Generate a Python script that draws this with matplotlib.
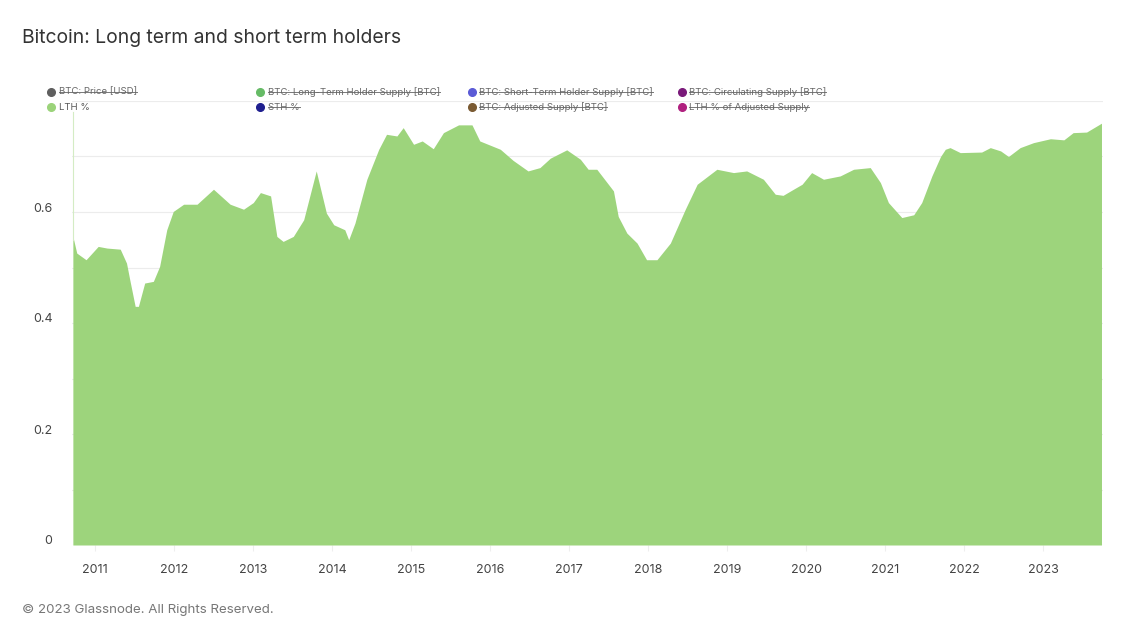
import matplotlib
matplotlib.use("Agg")
import matplotlib.pyplot as plt
from matplotlib.lines import Line2D
from matplotlib.transforms import ScaledTranslation
import numpy as np
import pandas as pd

plt.rcParams['font.family'] = ['Inter', 'DejaVu Sans']

title = "Bitcoin: Long term and short term holders"
footer = "\u00a9 2023 Glassnode. All Rights Reserved."

dates = ["2010-09-20", "2010-10-08", "2010-11-20", "2011-01-15", "2011-02-25", "2011-04-27",
         "2011-05-26", "2011-06-10", "2011-07-05", "2011-07-20", "2011-08-18", "2011-09-27",
         "2011-10-26", "2011-11-28", "2011-12-28", "2012-02-14", "2012-04-16", "2012-07-01",
         "2012-09-16", "2012-11-17", "2013-01-01", "2013-02-03", "2013-03-22", "2013-04-20",
         "2013-05-19", "2013-07-05", "2013-08-22", "2013-10-19", "2013-12-05", "2014-01-08",
         "2014-02-28", "2014-03-18", "2014-04-16", "2014-06-10", "2014-08-04", "2014-09-09",
         "2014-10-27", "2014-11-25", "2015-01-12", "2015-02-21", "2015-04-13", "2015-05-30",
         "2015-08-08", "2015-10-09", "2015-11-14", "2016-02-17", "2016-04-16", "2016-06-24",
         "2016-08-18", "2016-10-05", "2016-12-20", "2017-02-21", "2017-03-29", "2017-05-08",
         "2017-07-24", "2017-08-15", "2017-09-24", "2017-11-10", "2017-12-24", "2018-02-10",
         "2018-04-13", "2018-06-21", "2018-08-15", "2018-11-14", "2019-01-30", "2019-04-01",
         "2019-06-17", "2019-08-11", "2019-09-16", "2019-11-03", "2019-12-13", "2020-01-26",
         "2020-03-21", "2020-06-06", "2020-08-07", "2020-10-23", "2020-12-09", "2021-01-15",
         "2021-03-18", "2021-05-12", "2021-06-18", "2021-08-04", "2021-09-13", "2021-10-05",
         "2021-10-27", "2021-12-13", "2022-03-22", "2022-05-01", "2022-06-18", "2022-07-24",
         "2022-09-16", "2022-11-17", "2023-02-03", "2023-04-06", "2023-05-19", "2023-07-20",
         "2023-09-27"]
lth_pct = [0.556, 0.526, 0.514, 0.538, 0.535, 0.533,
           0.508, 0.478, 0.430, 0.430, 0.472, 0.475,
           0.502, 0.568, 0.601, 0.614, 0.614, 0.641,
           0.614, 0.605, 0.617, 0.635, 0.629, 0.556,
           0.547, 0.556, 0.586, 0.674, 0.598, 0.577,
           0.568, 0.550, 0.580, 0.659, 0.713, 0.740,
           0.737, 0.752, 0.722, 0.728, 0.714, 0.743,
           0.757, 0.757, 0.728, 0.713, 0.693, 0.674,
           0.680, 0.697, 0.712, 0.695, 0.677, 0.677,
           0.638, 0.592, 0.562, 0.544, 0.514, 0.514,
           0.544, 0.605, 0.650, 0.677, 0.671, 0.674,
           0.659, 0.632, 0.630, 0.641, 0.650, 0.671,
           0.659, 0.665, 0.677, 0.680, 0.653, 0.617,
           0.590, 0.595, 0.617, 0.665, 0.700, 0.713,
           0.716, 0.707, 0.708, 0.716, 0.710, 0.700,
           0.716, 0.725, 0.732, 0.730, 0.743, 0.744,
           0.760]

legend_labels = ["BTC: Price [USD]", "BTC: Long-Term Holder Supply [BTC]",
                 "BTC: Short-Term Holder Supply [BTC]", "BTC: Circulating Supply [BTC]",
                 "LTH %", "STH %", "BTC: Adjusted Supply [BTC]", "LTH % of Adjusted Supply"]
legend_colors = ["#5f5f5f", "#66bb66", "#5b5bd6", "#7a1a7a",
                 "#9bd37a", "#1f1f8f", "#7a5a32", "#b0207f"]
legend_active = [False, False, False, False, True, False, False, False]

year_ticks = [str(y) for y in range(2011, 2024)]
y_ticks = [0, 0.2, 0.4, 0.6]

W, H = 1140, 628
fig = plt.figure(figsize=(W / 100, H / 100), dpi=100)
left, right, top, bottom = 72, 1103, 101, 545
ax = fig.add_axes([left / W, 1 - bottom / H, (right - left) / W, (bottom - top) / H])

x = pd.to_datetime(dates)
fill_color = "#9dd47c"
ax.fill_between(x, 0, lth_pct, color=fill_color, lw=0, zorder=2)
ax.axvline(x[0], ymin=0.55 / 0.8, ymax=0.78 / 0.8, color='#d4ecc4', lw=0.8, zorder=2)

ax.set_xlim(pd.Timestamp("2010-09-16"), pd.Timestamp("2023-10-04"))
ax.set_ylim(0, 0.8)
ax.set_yticks(y_ticks)
ax.set_yticklabels(["0", "0.2", "0.4", "0.6"])
ax.set_yticks(np.arange(0, 0.81, 0.1), minor=True)
ax.grid(True, axis='y', which='both', color='#ececec', lw=0.8, zorder=0)
ax.tick_params(axis='y', which='both', length=0, pad=14, labelsize=9, labelcolor='#444444')
for lab in ax.get_yticklabels():
    lab.set_transform(lab.get_transform() + ScaledTranslation(0, 5 / 100, fig.dpi_scale_trans))

ax.set_xticks(pd.to_datetime([f"{y}-01-01" for y in year_ticks]))
ax.set_xticklabels(year_ticks)
ax.tick_params(axis='x', length=4, color='#eeeeee', pad=10, labelsize=9, labelcolor='#444444')
for s in ax.spines.values():
    s.set_visible(False)

fig.text(22 / W, 1 - 38 / H, title, fontsize=13.9, color='#333333', va='center', ha='left')
fig.text(22 / W, 1 - 610 / H, footer, fontsize=9.6, color='#777777', va='center', ha='left')

dot_x = [51, 260, 472, 682]
txt_x = [59, 268, 479, 689]
rows_y = [92, 107]
struck = []
for i, (lab, col, act) in enumerate(zip(legend_labels, legend_colors, legend_active)):
    r, c = divmod(i, 4)
    yy = 1 - rows_y[r] / H
    fig.add_artist(Line2D([dot_x[c] / W], [yy], marker='o', markersize=5.5,
                          color=col, ls='none'))
    t = fig.text(txt_x[c] / W, yy, lab, fontsize=6.9,
                 color='#555555' if act else '#666666', va='center', ha='left')
    if not act:
        struck.append(t)

fig.canvas.draw()
renderer = fig.canvas.get_renderer()
for t in struck:
    bb = t.get_window_extent(renderer)
    ymid = (bb.y0 + bb.y1) / 2 + 0.5
    fig.add_artist(Line2D([bb.x0 / W, bb.x1 / W], [ymid / H, ymid / H],
                          color='#777777', lw=0.7))

fig.savefig("out.png", dpi=100, facecolor='white')
